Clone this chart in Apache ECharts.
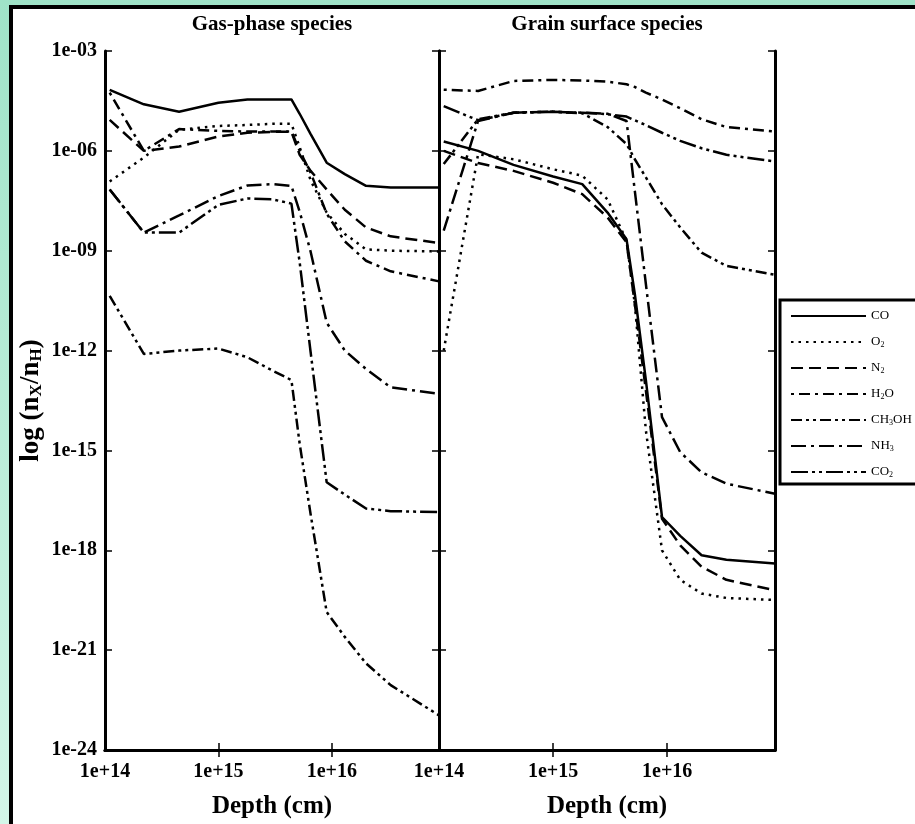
<!DOCTYPE html>
<html>
<head>
<meta charset="utf-8">
<title>Gas-phase and grain surface species</title>
<script src="https://cdn.jsdelivr.net/npm/echarts@6/dist/echarts.min.js"></script>
<style>
    html, body { margin: 0; padding: 0; }
    body { width: 915px; height: 824px; overflow: hidden; position: relative;
           background: linear-gradient(#9fe3c8, #d3f6e8); }
    #frame { position: absolute; left: 9px; top: 5px; width: 930px; height: 840px;
             background: #fff; border: 4px solid #000; }
    #main { position: absolute; left: 0; top: 0; width: 915px; height: 824px; }
</style>
</head>
<body>
<div id="frame"></div>
<div id="main"></div>
<script type="text/javascript">
    // depth grid (cm), shared by both panels
    var depth = [1.1e14, 2.2e14, 4.5e14, 1e15, 1.8e15, 3e15, 4.4e15, 5.2e15, 6.5e15, 9e15, 1.3e16, 2e16, 3.3e16, 8.8e16];

    // gas-phase abundances n_X/n_H
    var gasCO    = [6.8e-5, 2.5e-5, 1.5e-5, 2.8e-5, 3.5e-5, 3.5e-5, 3.5e-5, 1.3e-5, 3.2e-6, 4.4e-7, 2.0e-7, 8.9e-8, 7.9e-8, 7.9e-8];
    var gasO2    = [1.2e-7, 6.3e-7, 4.3e-6, 5.6e-6, 6.0e-6, 6.5e-6, 6.5e-6, 1.3e-6, 1.3e-7, 1.4e-8, 3.2e-9, 1.1e-9, 1.0e-9, 9.5e-10];
    var gasN2    = [8.5e-6, 1.0e-6, 1.35e-6, 2.7e-6, 3.5e-6, 3.7e-6, 3.8e-6, 7.6e-7, 2.5e-7, 6.9e-8, 1.7e-8, 5.0e-9, 2.7e-9, 1.7e-9];
    var gasH2O   = [5.6e-5, 1.0e-6, 4.5e-6, 4.0e-6, 3.8e-6, 3.8e-6, 3.8e-6, 1.0e-6, 2.2e-7, 1.3e-8, 1.9e-9, 5.0e-10, 2.4e-10, 1.2e-10];
    var gasCH3OH = [4.4e-11, 7.9e-13, 1.0e-12, 1.15e-12, 6.3e-13, 2.5e-13, 1.3e-13, 1.6e-15, 1.2e-17, 1.4e-20, 2.5e-21, 4.0e-22, 8.9e-23, 1.1e-23];
    var gasNH3   = [6.9e-8, 3.5e-9, 1.15e-8, 4.4e-8, 9.1e-8, 1.0e-7, 8.9e-8, 1.5e-8, 9.3e-10, 6.9e-12, 1.0e-12, 2.8e-13, 7.9e-14, 5.0e-14];
    var gasCO2   = [6.9e-8, 3.5e-9, 3.5e-9, 2.4e-8, 3.7e-8, 3.5e-8, 2.6e-8, 4.5e-10, 8.9e-13, 1.1e-16, 4.7e-17, 1.8e-17, 1.5e-17, 1.4e-17];

    // grain surface abundances
    var grCO     = [1.9e-6, 1.0e-6, 3.8e-7, 1.7e-7, 1.0e-7, 1.4e-8, 2.2e-9, 5.0e-11, 1.3e-13, 1.0e-17, 2.7e-18, 7.1e-19, 5.2e-19, 4.0e-19];
    var grO2     = [1.0e-12, 7.9e-7, 5.6e-7, 2.8e-7, 1.8e-7, 3.5e-8, 2.0e-9, 2.5e-11, 4.0e-15, 1.0e-18, 1.3e-19, 5.0e-20, 3.7e-20, 3.2e-20];
    var grN2     = [1.0e-6, 4.3e-7, 2.5e-7, 1.1e-7, 5.0e-8, 1.0e-8, 1.8e-9, 2.5e-11, 6.3e-14, 8.9e-18, 1.4e-18, 3.2e-19, 1.3e-19, 6.3e-20];
    var grH2O    = [6.9e-5, 6.3e-5, 1.26e-4, 1.35e-4, 1.3e-4, 1.2e-4, 1.0e-4, 8.3e-5, 5.6e-5, 3.5e-5, 1.9e-5, 8.9e-6, 5.2e-6, 3.8e-6];
    var grCH3OH  = [4.0e-7, 8.9e-6, 1.4e-5, 1.5e-5, 1.35e-5, 5.2e-6, 1.6e-6, 5.6e-7, 1.6e-7, 2.5e-8, 5.0e-9, 8.7e-10, 3.5e-10, 1.9e-10];
    var grNH3    = [4.0e-9, 7.9e-6, 1.4e-5, 1.5e-5, 1.4e-5, 1.3e-5, 7.9e-6, 6.3e-8, 1.0e-10, 1.0e-14, 8.9e-16, 2.2e-16, 1.0e-16, 5.0e-17];
    var grCO2    = [2.2e-5, 8.3e-6, 1.4e-5, 1.5e-5, 1.4e-5, 1.26e-5, 1.07e-5, 8.3e-6, 5.9e-6, 3.5e-6, 2.0e-6, 1.2e-6, 7.6e-7, 4.8e-7];

    var species = ['CO', 'O2', 'N2', 'H2O', 'CH3OH', 'NH3', 'CO2'];
    var legendText = {
        'CO': 'CO', 'O2': 'O{s|2}', 'N2': 'N{s|2}', 'H2O': 'H{s|2}O',
        'CH3OH': 'CH{s|3}OH', 'NH3': 'NH{s|3}', 'CO2': 'CO{s|2}'
    };
    var dashes = {
        'CO': 'solid',
        'O2': [2.5, 5],
        'N2': [12, 6],
        'H2O': [3, 5, 11, 5],
        'CH3OH': [11, 4, 3, 4, 3, 4],
        'NH3': [15, 5, 3, 5],
        'CO2': [17, 4, 3, 4, 3, 4]
    };
    var gasData = { 'CO': gasCO, 'O2': gasO2, 'N2': gasN2, 'H2O': gasH2O, 'CH3OH': gasCH3OH, 'NH3': gasNH3, 'CO2': gasCO2 };
    var grainData = { 'CO': grCO, 'O2': grO2, 'N2': grN2, 'H2O': grH2O, 'CH3OH': grCH3OH, 'NH3': grNH3, 'CO2': grCO2 };

    var xTicks = [1e14, 1e15, 1e16];
    var yTicks = [1e-24, 1e-21, 1e-18, 1e-15, 1e-12, 1e-9, 1e-6, 1e-3];

    var serif = 'Liberation Serif';

    function xLabel(v) { return '1e+' + Math.round(Math.log10(v)); }
    function yLabel(v) {
        var e = Math.round(-Math.log10(v));
        return '1e-' + (e < 10 ? '0' + e : e);
    }

    function makeX(gi, pos, labels) {
        return {
            type: 'log', gridIndex: gi, position: pos, logBase: 10,
            min: 1e14, max: 8.8e16,
            axisLine: { show: true, lineStyle: { color: '#000', width: 3 } },
            axisTick: { show: true, inside: true, length: 7, customValues: [1e15, 1e16],
                        lineStyle: { color: '#000', width: 1.5 } },
            axisLabel: { show: labels, customValues: xTicks, formatter: xLabel, margin: 12,
                         fontFamily: serif, fontWeight: 'bold', fontSize: 20, color: '#000' },
            splitLine: { show: false },
            name: labels ? 'Depth (cm)' : '', nameLocation: 'middle', nameGap: 44,
            nameTextStyle: { fontFamily: serif, fontWeight: 'bold', fontSize: 25, color: '#000' }
        };
    }
    function makeY(gi, pos, labels) {
        return {
            type: 'log', gridIndex: gi, position: pos, logBase: 10,
            min: 1e-24, max: 1e-3,
            axisLine: { show: true, lineStyle: { color: '#000', width: 3 } },
            axisTick: { show: true, inside: true, length: 7, customValues: yTicks,
                        lineStyle: { color: '#000', width: 1.5 } },
            axisLabel: { show: labels, customValues: yTicks, formatter: yLabel, margin: 8,
                         fontFamily: serif, fontWeight: 'bold', fontSize: 20, color: '#000' },
            splitLine: { show: false },
            name: labels ? 'log (n{s|X}/n{s|H})' : '', nameLocation: 'middle', nameGap: 60,
            nameTextStyle: { fontFamily: serif, fontWeight: 'bold', fontSize: 27, color: '#000',
                             rich: { s: { fontFamily: serif, fontWeight: 'bold', fontSize: 17,
                                          color: '#000', verticalAlign: 'bottom' } } }
        };
    }

    var series = [];
    species.forEach(function (sp) {
        [gasData, grainData].forEach(function (src, gi) {
            series.push({
                name: sp, type: 'line', xAxisIndex: gi, yAxisIndex: gi,
                data: depth.map(function (d, i) { return [d, src[sp][i]]; }),
                symbol: 'none', silent: true,
                lineStyle: { color: '#000', width: 2.5, type: dashes[sp], cap: 'butt' },
                itemStyle: { color: '#000' }
            });
        });
    });

    var myChart = echarts.init(document.getElementById('main'));
    myChart.setOption({
        animation: false,
        backgroundColor: 'transparent',
        title: [{
            text: 'Gas-phase species', left: 272, top: 14, padding: 0, textAlign: 'center',
            textStyle: { fontFamily: serif, fontWeight: 'bold', fontSize: 21, color: '#000' }
        }, {
            text: 'Grain surface species', left: 607, top: 14, padding: 0, textAlign: 'center',
            textStyle: { fontFamily: serif, fontWeight: 'bold', fontSize: 21, color: '#000' }
        }],
        grid: [
            { left: 105, top: 51, width: 334, height: 701 },
            { left: 439, top: 51, width: 336, height: 701 }
        ],
        xAxis: [makeX(0, 'bottom', true), makeX(1, 'bottom', true), makeX(0, 'top', false), makeX(1, 'top', false)],
        yAxis: [makeY(0, 'left', true), makeY(1, 'left', false), makeY(0, 'right', false), makeY(1, 'right', false)],
        legend: {
            data: species, orient: 'vertical', left: 780, top: 300, align: 'left',
            itemWidth: 75, itemHeight: 12, itemGap: 12,
            padding: [9, 45, 5, 10],
            borderColor: '#000', borderWidth: 3, backgroundColor: '#fff',
            selectedMode: false,
            itemStyle: { opacity: 0 },
            formatter: function (name) { return legendText[name]; },
            textStyle: { fontFamily: serif, fontSize: 13, color: '#000', lineHeight: 14,
                         rich: { s: { fontFamily: serif, fontSize: 8, color: '#000', verticalAlign: 'bottom' } } }
        },
        series: series
    });
</script>
</body>
</html>
